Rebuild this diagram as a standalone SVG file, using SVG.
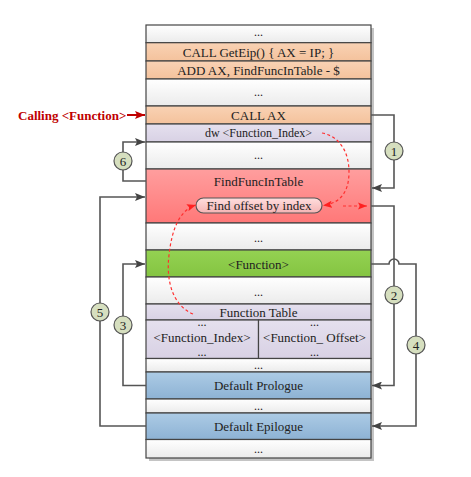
<svg xmlns="http://www.w3.org/2000/svg" width="471" height="477" viewBox="0 0 471 477">
<defs>
<linearGradient id="gW" x1="0" y1="0" x2="0" y2="1"><stop offset="0" stop-color="#ffffff"/><stop offset="1" stop-color="#ebebeb"/></linearGradient>
<linearGradient id="gO" x1="0" y1="0" x2="0" y2="1"><stop offset="0" stop-color="#f9d2b4"/><stop offset="1" stop-color="#f4c29c"/></linearGradient>
<linearGradient id="gP" x1="0" y1="0" x2="0" y2="1"><stop offset="0" stop-color="#e5e0ee"/><stop offset="1" stop-color="#d8d1e4"/></linearGradient>
<linearGradient id="gR" x1="0" y1="0" x2="0" y2="1"><stop offset="0" stop-color="#ff9e9e"/><stop offset="1" stop-color="#ff7878"/></linearGradient>
<linearGradient id="gG" x1="0" y1="0" x2="0" y2="1"><stop offset="0" stop-color="#94d252"/><stop offset="1" stop-color="#84c441"/></linearGradient>
<linearGradient id="gB" x1="0" y1="0" x2="0" y2="1"><stop offset="0" stop-color="#accbe5"/><stop offset="1" stop-color="#8db2d4"/></linearGradient>
<linearGradient id="gE" x1="0" y1="0" x2="0" y2="1"><stop offset="0" stop-color="#ffdede"/><stop offset="1" stop-color="#f4b4b4"/></linearGradient>
<marker id="ah" viewBox="0 0 10 8" refX="10" refY="4" markerWidth="10" markerHeight="8" markerUnits="userSpaceOnUse" orient="auto"><path d="M0,0 L10,4 L0,8 L2,4 z" fill="#444"/></marker>
<marker id="ahRed" viewBox="0 0 10 8" refX="10" refY="4" markerWidth="10" markerHeight="8" markerUnits="userSpaceOnUse" orient="auto"><path d="M0,0 L10,4 L0,8 L2,4 z" fill="#c00000"/></marker>
<marker id="ahDash" viewBox="0 0 10 8" refX="10" refY="4" markerWidth="9" markerHeight="8" markerUnits="userSpaceOnUse" orient="auto"><path d="M0,0 L10,4 L0,8 L2,4 z" fill="#ff2020"/></marker>
</defs>
<style>
.row{stroke:#444;stroke-width:1.2}
.t{font-family:"Liberation Serif","Times New Roman",serif;font-size:13px;fill:#222;text-anchor:middle;dominant-baseline:central}
.d{font-family:"Liberation Serif","Times New Roman",serif;font-size:12px;fill:#222;text-anchor:middle}
.conn{fill:none;stroke:#555;stroke-width:1.6}
.dash{fill:none;stroke:#ff3030;stroke-width:1.2;stroke-dasharray:3,2.5}
.num circle{fill:#d6dfbf;stroke:#555;stroke-width:1.2}
.num text{font-family:"Liberation Serif","Times New Roman",serif;font-size:13px;fill:#222;text-anchor:middle;dominant-baseline:central}
</style>
<rect x="149" y="28" width="225" height="433" fill="#c4c4c4"/>
<g id="r1"><rect class="row" x="146" y="25" width="225" height="17.7" fill="url(#gW)"/><text class="d" x="258.5" y="36">...</text></g>
<g id="getEip"><rect class="row" x="146" y="42.7" width="225" height="18.3" fill="url(#gO)"/><text class="t" x="258.5" y="52">CALL GetEip() { AX = IP; }</text></g>
<g id="addAx"><rect class="row" x="146" y="61" width="225" height="18" fill="url(#gO)"/><text class="t" x="258.5" y="70">ADD AX, FindFuncInTable - $</text></g>
<g id="r2"><rect class="row" x="146" y="79" width="225" height="27" fill="url(#gW)"/><text class="d" x="258.5" y="96">...</text></g>
<g id="callAx"><rect class="row" x="146" y="106" width="225" height="18" fill="url(#gO)"/><text class="t" x="258.5" y="115">CALL AX</text></g>
<g id="dw"><rect class="row" x="146" y="124" width="225" height="18" fill="url(#gP)"/><text class="t" x="258.5" y="133" style="font-size:12px">dw &lt;Function_Index&gt;</text></g>
<g id="r3"><rect class="row" x="146" y="142" width="225" height="27" fill="url(#gW)"/><text class="d" x="258.5" y="159">...</text></g>
<g id="findFunc"><rect class="row" x="146" y="169" width="225" height="54" fill="url(#gR)"/><text class="t" x="258.5" y="181">FindFuncInTable</text></g>
<g id="findOffset"><rect x="196" y="198" width="126" height="15" rx="7.5" fill="url(#gE)" stroke="#555" stroke-width="1.1"/><text class="t" x="259" y="205.5">Find offset by index</text></g>
<g id="r4"><rect class="row" x="146" y="223" width="225" height="27" fill="url(#gW)"/><text class="d" x="258.5" y="242">...</text></g>
<g id="function"><rect class="row" x="146" y="250" width="225" height="27" fill="url(#gG)"/><text class="t" x="258.5" y="264">&lt;Function&gt;</text></g>
<g id="r5"><rect class="row" x="146" y="277" width="225" height="27" fill="url(#gW)"/><text class="d" x="258.5" y="296">...</text></g>
<g id="funcTable">
<rect class="row" x="146" y="304" width="225" height="16" fill="url(#gP)"/><text class="t" x="258.5" y="312">Function Table</text>
<rect class="row" x="146" y="320" width="112.5" height="38.5" fill="url(#gP)"/>
<rect class="row" x="258.5" y="320" width="112.5" height="38.5" fill="url(#gP)"/>
<text class="d" x="202" y="326">...</text><text class="t" x="202" y="337">&lt;Function_Index&gt;</text><text class="d" x="202" y="356">...</text>
<text class="d" x="314.5" y="326">...</text><text class="t" x="314.5" y="337">&lt;Function_ Offset&gt;</text><text class="d" x="314.5" y="356">...</text>
</g>
<g id="r6"><rect class="row" x="146" y="358.5" width="225" height="13.5" fill="url(#gW)"/><text class="d" x="258.5" y="369">...</text></g>
<g id="prologue"><rect class="row" x="146" y="372" width="225" height="27" fill="url(#gB)"/><text class="t" x="258.5" y="385.5">Default Prologue</text></g>
<g id="r7"><rect class="row" x="146" y="399" width="225" height="14" fill="url(#gW)"/><text class="d" x="258.5" y="410">...</text></g>
<g id="epilogue"><rect class="row" x="146" y="413" width="225" height="26.5" fill="url(#gB)"/><text class="t" x="258.5" y="426">Default Epilogue</text></g>
<g id="r8"><rect class="row" x="146" y="439.5" width="225" height="18.5" fill="url(#gW)"/><text class="d" x="258.5" y="453">...</text></g>
<g id="calling"><text x="18" y="115" style="font-family:'Liberation Serif','Times New Roman',serif;font-size:13px;font-weight:bold;fill:#c00000;dominant-baseline:central">Calling &lt;Function&gt;</text></g>
<g id="connectors">
<path class="conn" d="M371,115 H394 V188 H372" marker-end="url(#ah)"/>
<path class="conn" d="M146,181 H123 V142 H145" marker-end="url(#ah)"/>
<path class="conn" d="M371,206 H394 V385.5 H372" marker-end="url(#ah)"/>
<path class="conn" d="M371,264 H389 A5,5 0 0 1 399,264 H416 V426 H372" marker-end="url(#ah)"/>
<path class="conn" d="M146,385.5 H123 V264 H145" marker-end="url(#ah)"/>
<path class="conn" d="M146,426 H100 V197 H145" marker-end="url(#ah)"/>
<path d="M127,115 H145" fill="none" stroke="#c00000" stroke-width="2" marker-end="url(#ahRed)"/>
<path class="dash" d="M322,133 C338,136 349,150 349,172 C349,190 342,203 323,205.5" marker-end="url(#ahDash)"/>
<path class="dash" d="M343,206 H367" marker-end="url(#ahDash)"/>
<path class="dash" d="M193,314 C172,305 166,280 169,255 C172,228 180,210 196,205" marker-end="url(#ahDash)"/>
</g>
<g class="num" id="n1"><circle cx="394" cy="151" r="9"/><text x="394" y="151">1</text></g>
<g class="num" id="n2"><circle cx="394" cy="295" r="9"/><text x="394" y="295">2</text></g>
<g class="num" id="n3"><circle cx="123" cy="325" r="9"/><text x="123" y="325">3</text></g>
<g class="num" id="n4"><circle cx="416" cy="345" r="9"/><text x="416" y="345">4</text></g>
<g class="num" id="n5"><circle cx="100" cy="312" r="9"/><text x="100" y="312">5</text></g>
<g class="num" id="n6"><circle cx="123" cy="161" r="9"/><text x="123" y="161">6</text></g>
</svg>
